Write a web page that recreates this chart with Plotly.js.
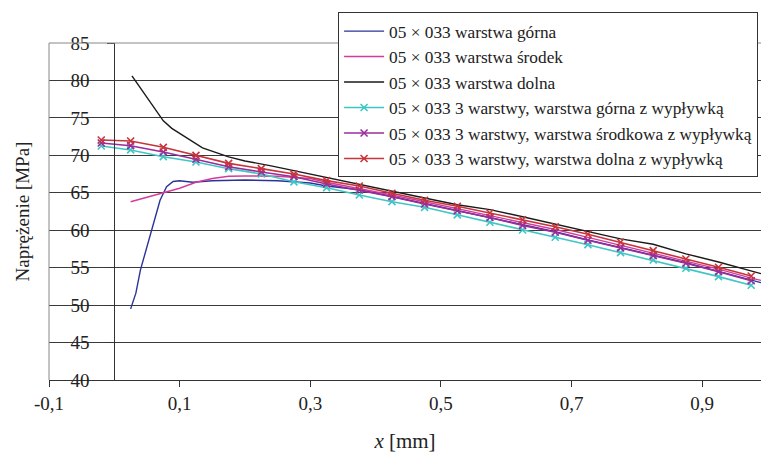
<!DOCTYPE html>
<html>
<head>
<meta charset="utf-8">
<script src="https://cdn.plot.ly/plotly-3.0.1.min.js"></script>
<style>html,body{margin:0;padding:0;background:#fff;}#chart{width:761px;height:454px;}</style>
</head>
<body>
<div id="chart"></div>
<script>
// Series names
const names = [
  "05 × 033 warstwa górna",
  "05 × 033 warstwa środek",
  "05 × 033 warstwa dolna",
  "05 × 033 3 warstwy, warstwa górna z wypływką",
  "05 × 033 3 warstwy, warstwa środkowa z wypływką",
  "05 × 033 3 warstwy, warstwa dolna z wypływką"
];

// Single-layer curves
const xGorna = [0.025, 0.033, 0.04, 0.05, 0.058, 0.065, 0.07, 0.08, 0.09, 0.1, 0.12, 0.15, 0.2, 0.25, 0.3, 0.325, 0.375, 0.425, 0.475, 0.525, 0.575, 0.625, 0.675, 0.725, 0.775, 0.825, 0.875, 0.925, 0.975, 0.99];
const yGorna = [49.5, 51.6, 54.7, 57.8, 60.3, 62.3, 64.0, 65.8, 66.5, 66.6, 66.4, 66.6, 66.7, 66.6, 66.3, 65.9, 65.4, 64.5, 63.55, 62.65, 61.75, 60.7, 59.8, 58.7, 57.7, 56.7, 55.65, 54.5, 53.3, 53.0];

const xSrodek = [0.025, 0.05, 0.075, 0.1, 0.125, 0.15, 0.175, 0.2, 0.25, 0.3, 0.325, 0.375, 0.425, 0.475, 0.525, 0.575, 0.625, 0.675, 0.725, 0.775, 0.825, 0.875, 0.925, 0.975, 0.99];
const ySrodek = [63.8, 64.4, 65.0, 65.6, 66.4, 66.9, 67.2, 67.25, 67.2, 66.9, 66.4, 65.6, 64.7, 63.8, 62.9, 62.0, 61.0, 60.1, 59.05, 58.0, 56.95, 55.9, 54.8, 53.6, 53.3];

const xDolna = [0.027, 0.05, 0.075, 0.088, 0.11, 0.135, 0.175, 0.2, 0.24, 0.275, 0.325, 0.375, 0.425, 0.475, 0.525, 0.575, 0.625, 0.675, 0.725, 0.775, 0.825, 0.875, 0.925, 0.975, 0.99];
const yDolna = [80.6, 77.8, 74.6, 73.6, 72.4, 71.0, 69.8, 69.25, 68.6, 67.95, 67.02, 66.13, 65.15, 64.3, 63.4, 62.75, 61.8, 60.8, 59.8, 58.85, 58.12, 56.85, 55.75, 54.5, 54.2];

// Three-layer curves (with markers)
const xMark = [-0.02, 0.025, 0.075, 0.125, 0.175, 0.225, 0.275, 0.325, 0.375, 0.425, 0.475, 0.525, 0.575, 0.625, 0.675, 0.725, 0.775, 0.825, 0.875, 0.925, 0.975];
const y3Gorna = [71.25, 70.72, 69.82, 69.11, 68.22, 67.51, 66.46, 65.68, 64.71, 63.81, 63.06, 62.04, 61.06, 60.03, 59.06, 58.07, 57.0, 56.03, 54.92, 53.80, 52.65];
const y3Srodkowa = [71.65, 71.29, 70.45, 69.47, 68.48, 67.78, 67.15, 66.18, 65.37, 64.48, 63.5, 62.6, 61.7, 60.65, 59.73, 58.66, 57.64, 56.61, 55.59, 54.47, 53.26];
const y3Dolna = [72.05, 71.92, 71.07, 70.0, 68.93, 68.22, 67.5, 66.62, 65.91, 64.94, 64.0, 63.2, 62.3, 61.4, 60.47, 59.46, 58.39, 57.27, 56.16, 55.05, 53.89];

// Tick labels
const xTickVals = [-0.1, 0.1, 0.3, 0.5, 0.7, 0.9];
const xTickText = ["-0,1", "0,1", "0,3", "0,5", "0,7", "0,9"];
const yTickVals = [40, 45, 50, 55, 60, 65, 70, 75, 80, 85];

const colors = ["#2a3397", "#d43c9c", "#1a1a1a", "#3fc6c4", "#9a2c9c", "#c8343b"];

function lineTrace(x, y, i) {
  return {x: x, y: y, name: names[i], type: "scatter", mode: "lines",
    line: {color: colors[i], width: 1.4}};
}
function markTrace(x, y, i) {
  return {x: x, y: y, name: names[i], type: "scatter", mode: "lines+markers",
    line: {color: colors[i], width: 1.6},
    marker: {symbol: "x-thin", size: 7, color: colors[i], line: {color: colors[i], width: 1.6}}};
}

const data = [
  lineTrace(xGorna, yGorna, 0),
  lineTrace(xSrodek, ySrodek, 1),
  lineTrace(xDolna, yDolna, 2),
  markTrace(xMark, y3Gorna, 3),
  markTrace(xMark, y3Srodkowa, 4),
  markTrace(xMark, y3Dolna, 5)
];

const font = "Liberation Serif, Times New Roman, serif";

const layout = {
  width: 761, height: 454,
  margin: {l: 49, r: 0, t: 43, b: 74, autoexpand: false},
  paper_bgcolor: "#fff", plot_bgcolor: "#fff",
  font: {family: font, size: 19, color: "#222"},
  showlegend: true,
  legend: {
    x: 0.406, y: 1.091, xanchor: "left", yanchor: "top",
    bgcolor: "#fff", bordercolor: "#333", borderwidth: 1,
    font: {family: font, size: 17.3, color: "#222"},
    itemwidth: 40,
    tracegroupgap: 0
  },
  xaxis: {
    range: [-0.1, 0.99],
    tickmode: "array", tickvals: xTickVals, ticktext: xTickText,
    ticks: "outside", ticklen: 6, tickcolor: "#333", tickwidth: 1,
    showline: true, linecolor: "#333", linewidth: 1,
    showgrid: false, zeroline: false,
    tickfont: {family: font, size: 19, color: "#222"},
    title: {text: "<i>x</i> [mm]", font: {family: font, size: 21, color: "#222"}, standoff: 20},
    automargin: false
  },
  yaxis: {
    range: [40, 85],
    anchor: "free", position: 0.0917,
    tickmode: "array", tickvals: yTickVals,
    ticks: "outside", ticklen: 7, tickcolor: "#333", tickwidth: 1,
    showline: true, linecolor: "#333", linewidth: 1,
    showgrid: true, gridcolor: "#3a3a3a", gridwidth: 1,
    zeroline: false,
    ticklabelstandoff: 14,
    tickfont: {family: font, size: 19, color: "#222"},
    title: {text: "Naprężenie [MPa]", font: {family: font, size: 19, color: "#222"}, standoff: 34},
    automargin: false
  },
  shapes: [
    {type: "line", xref: "paper", yref: "paper", x0: 0, x1: 0, y0: 0, y1: 1, line: {color: "#888", width: 1}},
    {type: "line", xref: "paper", yref: "paper", x0: 0, x1: 1, y0: 1, y1: 1, line: {color: "#888", width: 1}}
  ]
};

Plotly.newPlot("chart", data, layout, {displayModeBar: false, staticPlot: true});
</script>
</body>
</html>
